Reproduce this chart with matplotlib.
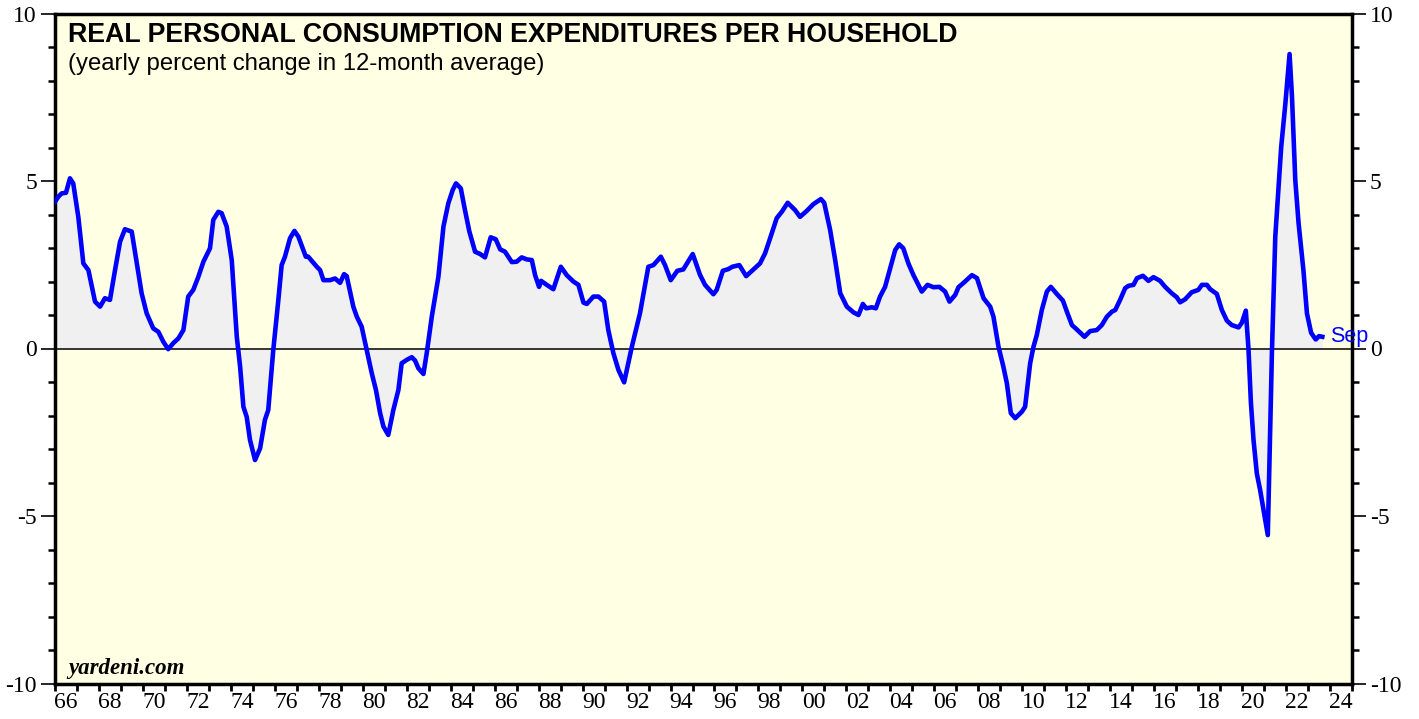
import matplotlib
matplotlib.use('Agg')
import matplotlib.pyplot as plt
from matplotlib.ticker import MultipleLocator, FixedLocator, FixedFormatter

plt.rcParams['axes.unicode_minus'] = False

# decimal year, yearly % change
years = [1966.00, 1966.15, 1966.30, 1966.50, 1966.68, 1966.83, 1967.06, 1967.29, 1967.52, 1967.82,
         1968.05, 1968.27, 1968.50, 1968.73, 1968.96, 1969.18, 1969.49, 1969.72, 1969.94, 1970.17,
         1970.47, 1970.70, 1970.93, 1971.15, 1971.38, 1971.61, 1971.84, 1972.06, 1972.29, 1972.52,
         1972.75, 1973.05, 1973.20, 1973.43, 1973.58, 1973.81, 1974.04, 1974.27, 1974.42, 1974.57,
         1974.72, 1974.87, 1975.10, 1975.33, 1975.55, 1975.70, 1975.93, 1976.16, 1976.31, 1976.46,
         1976.69, 1976.89, 1977.07, 1977.30, 1977.41, 1977.52, 1977.91, 1978.06, 1978.21, 1978.51,
         1978.74, 1978.97, 1979.15, 1979.27, 1979.57, 1979.73, 1979.95, 1980.18, 1980.41, 1980.60,
         1980.79, 1980.94, 1981.16, 1981.39, 1981.62, 1981.77, 1982.00, 1982.23, 1982.38, 1982.53,
         1982.76, 1982.91, 1983.14, 1983.44, 1983.67, 1983.89, 1984.09, 1984.24, 1984.46, 1984.65,
         1984.85, 1985.11, 1985.34, 1985.56, 1985.82, 1986.05, 1986.25, 1986.47, 1986.78, 1987.00,
         1987.23, 1987.46, 1987.69, 1987.84, 1988.02, 1988.11, 1988.37, 1988.67, 1989.01, 1989.28,
         1989.58, 1989.81, 1990.04, 1990.19, 1990.49, 1990.72, 1990.98, 1991.17, 1991.40, 1991.63,
         1991.89, 1992.08, 1992.24, 1992.61, 1992.99, 1993.22, 1993.56, 1993.75, 1994.01, 1994.31,
         1994.58, 1995.01, 1995.34, 1995.57, 1995.95, 1996.10, 1996.38, 1996.63, 1996.81, 1997.13,
         1997.44, 1997.77, 1998.07, 1998.30, 1998.53, 1998.83, 1999.06, 1999.33, 1999.67, 1999.89,
         2000.20, 2000.50, 2000.84, 2000.99, 2001.26, 2001.49, 2001.72, 2002.02, 2002.32, 2002.55,
         2002.75, 2002.90, 2003.16, 2003.34, 2003.53, 2003.76, 2003.99, 2004.22, 2004.40, 2004.59,
         2004.82, 2005.05, 2005.43, 2005.69, 2005.96, 2006.23, 2006.49, 2006.69, 2006.95, 2007.10,
         2007.40, 2007.71, 2007.94, 2008.24, 2008.54, 2008.69, 2008.92, 2009.14, 2009.30, 2009.48,
         2009.68, 2009.98, 2010.13, 2010.36, 2010.51, 2010.66, 2010.89, 2011.12, 2011.30, 2011.57,
         2011.85, 2012.03, 2012.26, 2012.48, 2012.83, 2013.09, 2013.39, 2013.62, 2013.85, 2014.08,
         2014.23, 2014.45, 2014.68, 2014.83, 2015.06, 2015.22, 2015.49, 2015.74, 2015.97, 2016.27,
         2016.50, 2016.80, 2017.03, 2017.18, 2017.41, 2017.71, 2018.01, 2018.17, 2018.40, 2018.55,
         2018.85, 2019.08, 2019.31, 2019.53, 2019.84, 2019.99, 2020.17, 2020.29, 2020.40, 2020.52,
         2020.67, 2020.82, 2021.00, 2021.17, 2021.28, 2021.36, 2021.51, 2021.66, 2021.78, 2021.97,
         2022.16, 2022.27, 2022.42, 2022.57, 2022.79, 2022.95, 2023.14, 2023.35, 2023.50, 2023.65]
values = [4.38, 4.53, 4.63, 4.65, 5.08, 4.93, 3.93, 2.54, 2.34, 1.40,
          1.25, 1.50, 1.45, 2.34, 3.19, 3.56, 3.49, 2.54, 1.65, 1.05,
          0.60, 0.50, 0.20, -0.02, 0.16, 0.30, 0.55, 1.55, 1.75, 2.14,
          2.59, 2.99, 3.84, 4.08, 4.04, 3.64, 2.64, 0.35, -0.54, -1.74,
          -2.04, -2.73, -3.33, -2.98, -2.13, -1.84, -0.04, 1.45, 2.49, 2.74,
          3.29, 3.51, 3.34, 2.94, 2.74, 2.74, 2.44, 2.34, 2.04, 2.04,
          2.09, 1.96, 2.22, 2.16, 1.25, 0.95, 0.65, -0.04, -0.74, -1.24,
          -1.93, -2.33, -2.58, -1.84, -1.24, -0.44, -0.34, -0.26, -0.36, -0.59,
          -0.76, -0.14, 0.95, 2.14, 3.64, 4.33, 4.73, 4.93, 4.78, 4.13,
          3.49, 2.89, 2.82, 2.72, 3.32, 3.26, 2.96, 2.89, 2.58, 2.59,
          2.72, 2.66, 2.64, 2.19, 1.84, 2.02, 1.90, 1.77, 2.44, 2.19,
          2.00, 1.90, 1.37, 1.33, 1.55, 1.55, 1.40, 0.55, -0.14, -0.64,
          -1.01, -0.44, 0.05, 1.05, 2.44, 2.49, 2.74, 2.49, 2.04, 2.32,
          2.36, 2.82, 2.20, 1.90, 1.62, 1.75, 2.32, 2.37, 2.44, 2.49,
          2.16, 2.36, 2.54, 2.84, 3.29, 3.89, 4.08, 4.35, 4.13, 3.93,
          4.11, 4.31, 4.46, 4.35, 3.54, 2.64, 1.65, 1.25, 1.08, 1.00,
          1.33, 1.20, 1.23, 1.20, 1.55, 1.84, 2.39, 2.94, 3.11, 2.99,
          2.54, 2.19, 1.70, 1.90, 1.83, 1.84, 1.70, 1.40, 1.60, 1.83,
          2.00, 2.19, 2.10, 1.50, 1.25, 0.95, 0.05, -0.54, -1.04, -1.93,
          -2.08, -1.89, -1.74, -0.44, 0.05, 0.40, 1.15, 1.70, 1.84, 1.63,
          1.43, 1.10, 0.70, 0.57, 0.35, 0.52, 0.55, 0.70, 0.95, 1.10,
          1.15, 1.45, 1.80, 1.87, 1.90, 2.10, 2.17, 2.02, 2.13, 2.02,
          1.84, 1.65, 1.53, 1.38, 1.47, 1.68, 1.75, 1.90, 1.90, 1.77,
          1.63, 1.15, 0.83, 0.70, 0.63, 0.77, 1.13, 0.00, -1.60, -2.73,
          -3.73, -4.22, -4.92, -5.57, -2.43, -0.04, 3.34, 4.83, 6.02, 7.32,
          8.79, 7.52, 5.03, 3.74, 2.34, 1.05, 0.47, 0.27, 0.37, 0.35]

label_years = list(range(1966, 2025, 2))
tick_labels = ['%02d' % (y % 100) for y in label_years]

W, H = 1419, 719
fig = plt.figure(figsize=(W / 100, H / 100), dpi=100)
L, R, T, B = 55, 1352, 13.5, 683.5
ax = fig.add_axes([L / W, 1 - B / H, (R - L) / W, (B - T) / H])
ax.set_facecolor('#FFFFE3')

ax.fill_between(years, values, 0, color='#F0F0F0', lw=0, zorder=1)
ax.axhline(0, color='black', lw=1.1, zorder=2)
ax.plot(years, values, color='#0000FF', lw=3.3, solid_joinstyle='round', zorder=3)

ax.set_xlim(1966, 2025)
ax.set_ylim(-10, 10)

for s in ax.spines.values():
    s.set_linewidth(2.5)

# y axis on both sides
ax.yaxis.set_major_locator(MultipleLocator(5))
ax.yaxis.set_minor_locator(MultipleLocator(1))
ax.tick_params(axis='y', which='both', direction='out', left=True, right=True,
               labelleft=True, labelright=True)
ax.tick_params(axis='y', which='major', length=10, width=1.2, pad=3)
ax.tick_params(axis='y', which='minor', length=5, width=1.8)

# x axis: ticks every year, labels centred in even years
ax.xaxis.set_major_locator(MultipleLocator(1))
ax.xaxis.set_major_formatter(FixedFormatter([]))
ax.xaxis.set_minor_locator(FixedLocator([y + 0.5 for y in label_years]))
ax.xaxis.set_minor_formatter(FixedFormatter(tick_labels))
ax.tick_params(axis='x', which='major', direction='out', length=5, width=2)
ax.tick_params(axis='x', which='minor', length=0, pad=6)
ax.tick_params(axis='both', which='both', labelsize=17)
plt.setp(ax.yaxis.get_majorticklabels(), fontfamily='Liberation Serif')
plt.setp(ax.xaxis.get_minorticklabels(), fontfamily='Liberation Serif')

fig.text(68 / W, 1 - 22 / H, 'REAL PERSONAL CONSUMPTION EXPENDITURES PER HOUSEHOLD',
         fontfamily='Liberation Sans', fontweight='bold', fontsize=19.3, va='top', ha='left')
fig.text(68 / W, 1 - 53 / H, '(yearly percent change in 12-month average)',
         fontfamily='Liberation Sans', fontsize=17.2, va='top', ha='left')
fig.text(68 / W, 1 - 679 / H, 'yardeni.com', fontfamily='Liberation Serif',
         fontweight='bold', fontstyle='italic', fontsize=16.5, va='bottom', ha='left')

ax.text(years[-1] + 0.35, values[-1], 'Sep', color='#0000FF', fontfamily='Liberation Sans',
        fontsize=15.5, va='center', ha='left', clip_on=False, zorder=4)

fig.savefig('out.png', dpi=100, facecolor='white')
